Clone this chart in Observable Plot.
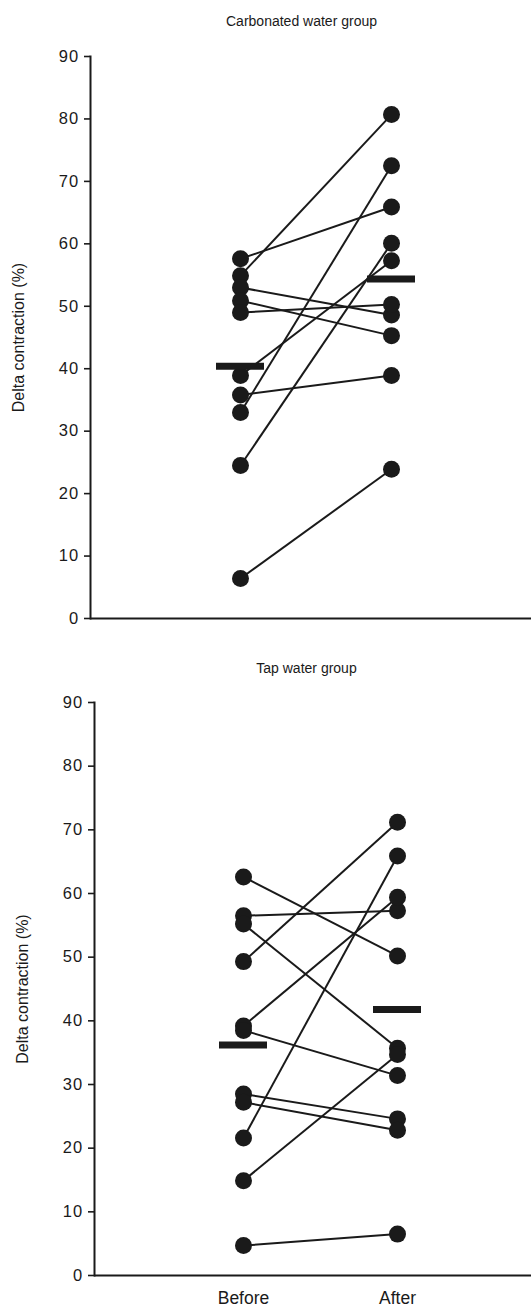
<!DOCTYPE html>
<html><head><meta charset="utf-8">
<script src="https://cdn.jsdelivr.net/npm/d3@7"></script>
<script src="https://cdn.jsdelivr.net/npm/@observablehq/plot@0.6"></script>
<style>
body{margin:0;background:#fff;}
#chart{width:531px;}
#chart svg{display:block;}
#chart svg g[aria-label="y-axis tick label"] text{letter-spacing:1.2px;}
</style>
</head><body><div id="chart"></div>
<script>
const categories = ["Before", "After"];
const yTicks = [0, 10, 20, 30, 40, 50, 60, 70, 80, 90];
const yLabel = "Delta contraction (%)";

const carbTitle = "Carbonated water group";
const carbBefore = [57.6, 54.9, 53.0, 50.9, 49.0, 38.9, 35.8, 33.0, 24.5, 6.4];
const carbAfter  = [65.9, 80.7, 48.6, 45.3, 50.3, 57.3, 38.9, 72.5, 60.1, 23.9];

const tapTitle = "Tap water group";
const tapBefore = [62.6, 56.5, 55.2, 49.3, 39.2, 38.5, 28.5, 27.2, 21.6, 14.9, 4.7];
const tapAfter  = [50.2, 57.3, 35.7, 71.2, 59.4, 31.4, 24.6, 22.8, 65.9, 34.7, 6.5];

const FONT = "'Liberation Sans', Arial, Helvetica, sans-serif";
const INK = "#1a1a1a";

function panel({title, before, after, height, marginTop, marginBottom, marginLeft, xRange, titleDx, titleDy, showX}) {
  const pairs = before.map((b, k) => ({b, a: after[k]}));
  const points = [];
  before.forEach(v => points.push({i: 0, v}));
  after.forEach(v => points.push({i: 1, v}));
  const means = [{i: 0, m: d3.mean(before)}, {i: 1, m: d3.mean(after)}];
  const hw = 24 / (xRange[1] - xRange[0]);
  const marks = [
    Plot.ruleY([0], {stroke: INK, strokeWidth: 2}),
    Plot.frame({anchor: "left", stroke: INK, strokeWidth: 2}),
    Plot.axisY({ticks: yTicks, tickSize: 6, tickPadding: 5, fontSize: 16.5, label: null, stroke: INK, strokeWidth: 1.6}),
    Plot.text([yLabel], {frameAnchor: "left", textAnchor: "middle", rotate: -90, dx: -72, fontSize: 16, fill: INK}),
    Plot.text([title], {frameAnchor: "top", textAnchor: "middle", dx: titleDx, dy: titleDy, fontSize: 14, fill: INK}),
    Plot.link(pairs, {x1: () => 0, x2: () => 1, y1: "b", y2: "a", stroke: INK, strokeWidth: 2}),
    Plot.dot(points, {x: "i", y: "v", r: 8.5, fill: INK, stroke: null}),
    Plot.ruleY(means, {y: "m", x1: d => d.i - hw, x2: d => d.i + hw, stroke: INK, strokeWidth: 7})
  ];
  if (showX) {
    marks.push(Plot.axisX({ticks: [0, 1], tickFormat: i => categories[i], tickSize: 0, tickPadding: 16, fontSize: 17.5, label: null}));
  }
  return Plot.plot({
    width: 531,
    height,
    marginTop,
    marginBottom,
    marginLeft,
    marginRight: 0,
    style: {fontFamily: FONT, color: INK, background: "#fff", overflow: "visible"},
    x: {type: "linear", domain: [0, 1], range: xRange, axis: null},
    y: {domain: [0, 90], axis: null},
    marks
  });
}

const chart = document.getElementById("chart");
chart.appendChild(panel({title: carbTitle, before: carbBefore, after: carbAfter,
  height: 640, marginTop: 56, marginBottom: 22, marginLeft: 90,
  xRange: [240, 391], titleDx: -9.5, titleDy: -40, showX: false}));
chart.appendChild(panel({title: tapTitle, before: tapBefore, after: tapAfter,
  height: 675, marginTop: 62, marginBottom: 40, marginLeft: 94,
  xRange: [243, 397], titleDx: -6.5, titleDy: -39, showX: true}));
</script>
</body></html>
